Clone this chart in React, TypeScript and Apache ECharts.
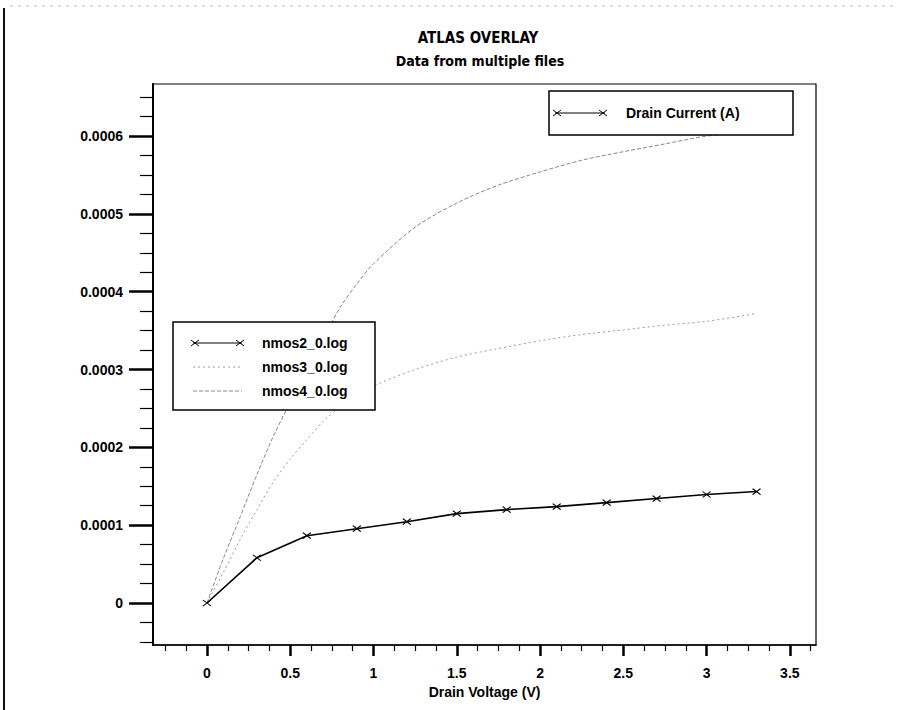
import React, { useEffect, useRef } from "react";
import * as echarts from "echarts";

// ---- data ----
const nmos2Voltage = [0, 0.3, 0.6, 0.9, 1.2, 1.5, 1.8, 2.1, 2.4, 2.7, 3.0, 3.3];
const nmos2Current = [0, 0.0000581, 0.0000865, 0.0000955, 0.0001045, 0.0001148, 0.00012, 0.0001239, 0.000129, 0.0001342, 0.0001394, 0.0001432];

const curveVoltage = [0, 0.1, 0.2, 0.3, 0.4, 0.5, 0.6, 0.7, 0.8, 0.9, 1.0, 1.25, 1.5, 1.75, 2.0, 2.25, 2.5, 2.75, 3.0, 3.3];
const nmos3Current = [0, 0.00004, 0.000082, 0.00012, 0.000156, 0.000185, 0.00021, 0.000234, 0.000252, 0.000267, 0.000279, 0.0003, 0.000316, 0.000327, 0.000337, 0.000345, 0.000351, 0.000357, 0.000362, 0.000372];
const nmos4Current = [0, 0.000058, 0.000111, 0.000165, 0.000215, 0.000258, 0.000298, 0.00034, 0.00038, 0.00041, 0.000436, 0.000483, 0.000514, 0.000537, 0.000554, 0.000569, 0.00058, 0.00059, 0.0006, 0.000606];

const seriesNames = ["nmos2_0.log", "nmos3_0.log", "nmos4_0.log"];

const xMajorTicks = [0, 0.5, 1, 1.5, 2, 2.5, 3, 3.5];
const xMinorTicks = [-0.25, -0.125, 0.125, 0.25, 0.375, 0.625, 0.75, 0.875, 1.125, 1.25, 1.375, 1.625, 1.75, 1.875, 2.125, 2.25, 2.375, 2.625, 2.75, 2.875, 3.125, 3.25, 3.375, 3.625];
const yMajorTicks = [0, 0.0001, 0.0002, 0.0003, 0.0004, 0.0005, 0.0006];
const yMinorTicks = [-0.00005, -0.000025, 0.000025, 0.00005, 0.000075, 0.000125, 0.00015, 0.000175, 0.000225, 0.00025, 0.000275, 0.000325, 0.00035, 0.000375, 0.000425, 0.00045, 0.000475, 0.000525, 0.00055, 0.000575, 0.000625, 0.00065];

const X_MIN = -0.324;
const X_MAX = 3.657;
const Y_MIN = -0.000054;
const Y_MAX = 0.000667;

const TITLE = "ATLAS OVERLAY";
const SUBTITLE = "Data from multiple files";
const X_NAME = "Drain Voltage (V)";
const Y_LEGEND = "Drain Current (A)";

const NARROW = "'Liberation Sans Narrow', 'DejaVu Sans Condensed', 'Liberation Sans', sans-serif";
const SANS = "'Liberation Sans', Arial, sans-serif";
const CROSS = "path://M0,0L8,6M8,0L0,6";

function crossAt(x: number, y: number) {
  return [
    { type: "line", z: 101, shape: { x1: x - 4, y1: y - 3, x2: x + 4, y2: y + 3 }, style: { stroke: "#000", lineWidth: 1 } },
    { type: "line", z: 101, shape: { x1: x - 4, y1: y + 3, x2: x + 4, y2: y - 3 }, style: { stroke: "#000", lineWidth: 1 } },
  ];
}

export default function App() {
  const ref = useRef<HTMLDivElement>(null);
  useEffect(() => {
    if (!ref.current) return;
    const chart = echarts.init(ref.current, undefined, { renderer: "svg" });

    const lbl = { fontFamily: SANS, fontWeight: "bold" as const, fontSize: 14, color: "#000" };

    const legendRows = [343, 367, 391];
    const graphic: any[] = [
      // scan border artifacts
      { type: "line", z: 0, shape: { x1: 4, y1: 8, x2: 4, y2: 710 }, style: { stroke: "#111", lineWidth: 2 } },
      { type: "line", z: 0, shape: { x1: 10, y1: 6, x2: 897, y2: 6 }, style: { stroke: "#bbb", lineWidth: 1, lineDash: [3, 5] } },
      // Drain Current legend box
      { type: "rect", z: 100, shape: { x: 549, y: 91, width: 244, height: 44 }, style: { fill: "#fff", stroke: "#000", lineWidth: 1.5 } },
      { type: "line", z: 101, shape: { x1: 555, y1: 113, x2: 605, y2: 113 }, style: { stroke: "#000", lineWidth: 1.2 } },
      ...crossAt(557, 113),
      ...crossAt(603, 113),
      { type: "text", z: 101, x: 626, y: 113, style: { text: Y_LEGEND, fill: "#000", font: `bold 14px ${SANS}`, verticalAlign: "middle", align: "left" } },
      // series legend box
      { type: "rect", z: 100, shape: { x: 173, y: 322, width: 202, height: 88 }, style: { fill: "#fff", stroke: "#000", lineWidth: 1.5 } },
      { type: "line", z: 101, shape: { x1: 193, y1: legendRows[0], x2: 242, y2: legendRows[0] }, style: { stroke: "#000", lineWidth: 1.2 } },
      ...crossAt(195, legendRows[0]),
      ...crossAt(240, legendRows[0]),
      { type: "line", z: 101, shape: { x1: 193, y1: legendRows[1], x2: 242, y2: legendRows[1] }, style: { stroke: "#9a9a9a", lineWidth: 1, lineDash: [2, 3] } },
      { type: "line", z: 101, shape: { x1: 193, y1: legendRows[2], x2: 242, y2: legendRows[2] }, style: { stroke: "#888", lineWidth: 1, lineDash: [4, 2] } },
      ...seriesNames.map((n, i) => ({
        type: "text", z: 101, x: 262, y: legendRows[i],
        style: { text: n, fill: "#000", font: `bold 14px ${SANS}`, verticalAlign: "middle", align: "left" },
      })),
    ];

    chart.setOption({
      animation: false,
      backgroundColor: "#fff",
      title: [
        { text: TITLE, left: 473, top: 25, textAlign: "center", textStyle: { fontFamily: NARROW, fontWeight: "bold", fontSize: 15, color: "#000" } },
        { text: SUBTITLE, left: 475, top: 49, textAlign: "center", textStyle: { fontFamily: NARROW, fontWeight: "bold", fontSize: 14, color: "#000" } },
      ],
      grid: { left: 153, top: 84, width: 663, height: 561, show: true, borderColor: "#000", borderWidth: 1.2, backgroundColor: "transparent" },
      xAxis: [
        {
          type: "value", min: X_MIN, max: X_MAX, position: "bottom",
          axisLine: { show: true, onZero: false, lineStyle: { color: "#000", width: 1.5 } },
          axisTick: { show: true, customValues: xMajorTicks, length: 11, lineStyle: { color: "#000", width: 2.5 } },
          axisLabel: { customValues: xMajorTicks, margin: 21, ...lbl, formatter: (v: number) => String(v) },
          splitLine: { show: false },
          name: X_NAME, nameLocation: "middle", nameGap: 35,
          nameTextStyle: { fontFamily: SANS, fontWeight: "bold", fontSize: 14, color: "#000" },
        },
        {
          type: "value", min: X_MIN, max: X_MAX, position: "bottom",
          axisLine: { show: false, onZero: false },
          axisTick: { show: true, customValues: xMinorTicks, length: 6, lineStyle: { color: "#000", width: 1.2 } },
          axisLabel: { show: false },
          splitLine: { show: false },
        },
      ],
      yAxis: [
        {
          type: "value", min: Y_MIN, max: Y_MAX, position: "left",
          axisLine: { show: true, onZero: false, lineStyle: { color: "#000", width: 2 } },
          axisTick: { show: true, customValues: yMajorTicks, length: 24, lineStyle: { color: "#000", width: 2.5 } },
          axisLabel: { customValues: yMajorTicks, margin: 30, ...lbl, formatter: (v: number) => (v === 0 ? "0" : v.toFixed(4)) },
          splitLine: { show: false },
        },
        {
          type: "value", min: Y_MIN, max: Y_MAX, position: "left",
          axisLine: { show: false, onZero: false },
          axisTick: { show: true, customValues: yMinorTicks, length: 13, lineStyle: { color: "#000", width: 1.2 } },
          axisLabel: { show: false },
          splitLine: { show: false },
        },
      ],
      series: [
        {
          name: seriesNames[0], type: "line", xAxisIndex: 0, yAxisIndex: 0,
          data: nmos2Voltage.map((v, i) => [v, nmos2Current[i]]),
          symbol: CROSS, symbolSize: [8, 6], showSymbol: true,
          itemStyle: { color: "#000", borderColor: "#000", borderWidth: 1.1 },
          lineStyle: { color: "#000", width: 1.6 },
          z: 5,
        },
        {
          name: seriesNames[1], type: "line", xAxisIndex: 0, yAxisIndex: 0,
          data: curveVoltage.map((v, i) => [v, nmos3Current[i]]),
          symbol: "none", smooth: 0.3,
          lineStyle: { color: "#9a9a9a", width: 1, type: [2, 3] },
          z: 3,
        },
        {
          name: seriesNames[2], type: "line", xAxisIndex: 0, yAxisIndex: 0,
          data: curveVoltage.map((v, i) => [v, nmos4Current[i]]),
          symbol: "none", smooth: 0.3,
          lineStyle: { color: "#888", width: 1, type: [4, 2] },
          z: 3,
        },
      ],
      graphic,
    });
    return () => chart.dispose();
  }, []);
  return <div ref={ref} style={{ position: "fixed", left: 0, top: 0, width: 897, height: 710 }} />;
}
